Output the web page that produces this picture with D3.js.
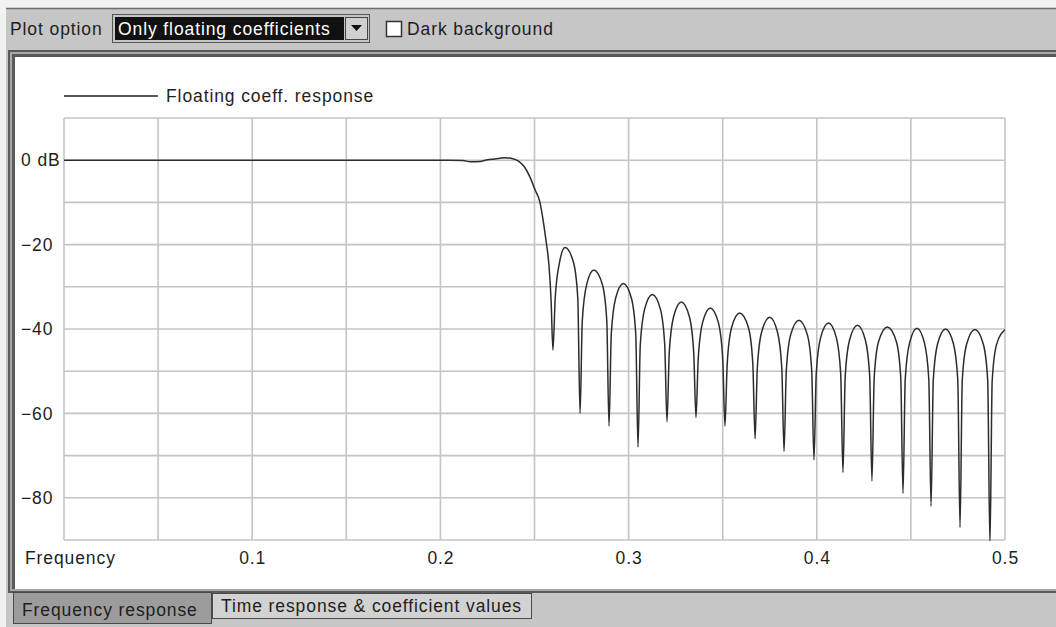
<!DOCTYPE html>
<html>
<head>
<meta charset="utf-8">
<script src="https://cdn.jsdelivr.net/npm/d3@7"></script>
<style>
  html, body { margin: 0; padding: 0; background: #f2f2f2; }
  svg { display: block; }
  text { font-family: "Liberation Sans", Arial, sans-serif; }
</style>
</head>
<body>
<svg id="chart" width="1056" height="627"></svg>
<script>
// ---------------- data ----------------
const seriesName = "Floating coeff. response";
const xTickValues = [0.1, 0.2, 0.3, 0.4, 0.5];
const yTickValues = [0, -20, -40, -60, -80];
const xGridValues = [0, 0.05, 0.1, 0.15, 0.2, 0.25, 0.3, 0.35, 0.4, 0.45, 0.5];
const yGridValues = [10, 0, -10, -20, -30, -40, -50, -60, -70, -80, -90];
const xAxisTitle = "Frequency";
const plotOption = "Only floating coefficients";
const checkboxLabel = "Dark background";
const tabLabels = ["Frequency response", "Time response & coefficient values"];

// normalized frequency
const freq = [
  0.000, 0.150, 0.205, 0.212, 0.216, 0.221, 0.225, 0.229, 0.234, 0.238,
  0.2415, 0.2445, 0.2476, 0.2503, 0.2529, 0.2545, 0.2561, 0.2577, 0.2588, 0.2598,
  0.2610, 0.2633, 0.2662, 0.2707, 0.2730, 0.2742,
  0.2754, 0.2777, 0.2815, 0.2861, 0.2884, 0.2896,
  0.2908, 0.2931, 0.2972, 0.3015, 0.3038, 0.3050,
  0.3062, 0.3085, 0.3126, 0.3169, 0.3192, 0.3204,
  0.3216, 0.3239, 0.3280, 0.3323, 0.3346, 0.3358,
  0.3370, 0.3393, 0.3434, 0.3477, 0.3500, 0.3512,
  0.3524, 0.3547, 0.3590, 0.3637, 0.3660, 0.3672,
  0.3684, 0.3707, 0.3750, 0.3791, 0.3814, 0.3826,
  0.3838, 0.3861, 0.3905, 0.3950, 0.3973, 0.3985,
  0.3997, 0.4020, 0.4062, 0.4104, 0.4127, 0.4139,
  0.4151, 0.4174, 0.4216, 0.4258, 0.4281, 0.4293,
  0.4305, 0.4328, 0.4375, 0.4423, 0.4446, 0.4458,
  0.4470, 0.4493, 0.4532, 0.4572, 0.4595, 0.4607,
  0.4619, 0.4642, 0.4684, 0.4726, 0.4749, 0.4761,
  0.4773, 0.4796, 0.4840, 0.4885, 0.4908, 0.4920,
  0.4932, 0.4955, 0.5000
];
// magnitude in dB
const magDb = [
  0.0, 0.0, 0.0, -0.1, -0.35, -0.3, 0.1, 0.3, 0.6, 0.4,
  -0.2, -1.5, -4, -7, -10, -14, -19, -25, -33, -45,
  -32.7, -24.2, -20.7, -24.2, -32.7, -60,
  -38.0, -29.5, -26.0, -29.5, -38.0, -63,
  -41.2, -32.7, -29.2, -32.7, -41.2, -68,
  -43.8, -35.3, -31.8, -35.3, -43.8, -62,
  -45.6, -37.1, -33.6, -37.1, -45.6, -61,
  -47.0, -38.5, -35.0, -38.5, -47.0, -63,
  -48.2, -39.7, -36.2, -39.7, -48.2, -66,
  -49.2, -40.7, -37.2, -40.7, -49.2, -69,
  -49.9, -41.4, -37.9, -41.4, -49.9, -71,
  -50.6, -42.1, -38.6, -42.1, -50.6, -74,
  -51.1, -42.6, -39.1, -42.6, -51.1, -76,
  -51.5, -43.0, -39.5, -43.0, -51.5, -79,
  -51.8, -43.3, -39.8, -43.3, -51.8, -82,
  -52.0, -43.5, -40.0, -43.5, -52.0, -87,
  -52.1, -43.6, -40.1, -43.6, -52.1, -91,
  -52.2, -43.7, -40.2
];

// ---------------- drawing ----------------
const svg = d3.select("#chart");
const W = 1056, H = 627;
const FONT = 17.5;
const LS = 0.9;
const TXT = "#1e1e1e";

// window chrome
svg.append("rect").attr("x", 0).attr("y", 0).attr("width", W).attr("height", H).attr("fill", "#f2f2f2");
svg.append("rect").attr("x", 6).attr("y", 8).attr("width", W - 6).attr("height", H - 8).attr("fill", "#c6c6c6");
svg.append("line").attr("x1", 6).attr("x2", W).attr("y1", 8.5).attr("y2", 8.5).attr("stroke", "#6e6e6e").attr("stroke-width", 1.5);

// toolbar
svg.append("text").attr("x", 10).attr("y", 35).attr("font-size", FONT).attr("letter-spacing", LS)
  .attr("fill", TXT).text("Plot option");
svg.append("rect").attr("x", 112.5).attr("y", 14.5).attr("width", 257).attr("height", 28)
  .attr("fill", "#c6c6c6").attr("stroke", "#555");
svg.append("rect").attr("x", 115).attr("y", 17).attr("width", 229).attr("height", 23).attr("fill", "#111");
svg.append("text").attr("x", 118).attr("y", 35).attr("font-size", FONT).attr("letter-spacing", LS)
  .attr("fill", "#fff").text(plotOption);
svg.append("rect").attr("x", 345.5).attr("y", 17.5).attr("width", 22).attr("height", 22)
  .attr("fill", "#d0d0d0").attr("stroke", "#444");
svg.append("path").attr("d", "M351,25 L362,25 L356.5,31 Z").attr("fill", "#111");
svg.append("rect").attr("x", 386.5).attr("y", 21.5).attr("width", 15).attr("height", 15)
  .attr("fill", "#fff").attr("stroke", "#333").attr("stroke-width", 1.5);
svg.append("text").attr("x", 407).attr("y", 35).attr("font-size", FONT).attr("letter-spacing", LS)
  .attr("fill", TXT).text(checkboxLabel);

// panel frame
svg.append("rect").attr("x", 8).attr("y", 50).attr("width", W - 8).attr("height", 543).attr("fill", "#5a5a5a");
svg.append("rect").attr("x", 10).attr("y", 52).attr("width", W - 10).attr("height", 539).attr("fill", "#a8a8a8");
svg.append("rect").attr("x", 12).attr("y", 54).attr("width", W - 12).attr("height", 535).attr("fill", "#5a5a5a");
svg.append("rect").attr("x", 15).attr("y", 57).attr("width", W - 15).attr("height", 532).attr("fill", "#ffffff");

// tabs
svg.append("rect").attr("x", 212.5).attr("y", 593.5).attr("width", 319).attr("height", 25)
  .attr("fill", "#d2d2d2").attr("stroke", "#4a4a4a");
svg.append("text").attr("x", 221).attr("y", 612).attr("font-size", FONT).attr("letter-spacing", LS)
  .attr("fill", TXT).text(tabLabels[1]);
svg.append("rect").attr("x", 13.5).attr("y", 592.5).attr("width", 198).attr("height", 31)
  .attr("fill", "#9c9c9c").attr("stroke", "#4a4a4a");
svg.append("text").attr("x", 22).attr("y", 616).attr("font-size", FONT).attr("letter-spacing", LS)
  .attr("fill", TXT).text(tabLabels[0]);

// scales
const x = d3.scaleLinear().domain([0, 0.5]).range([64, 1005]);
const y = d3.scaleLinear().domain([10, -90]).range([118, 540]);

// grid
const grid = svg.append("g");
grid.selectAll("line.v").data(xGridValues).join("line").attr("class", "v")
  .attr("x1", d => x(d)).attr("x2", d => x(d)).attr("y1", y(10)).attr("y2", y(-90))
  .attr("stroke", "#c4c4c4").attr("stroke-width", 1.6);
grid.selectAll("line.h").data(yGridValues).join("line").attr("class", "h")
  .attr("x1", x(0)).attr("x2", x(0.5)).attr("y1", d => y(d)).attr("y2", d => y(d))
  .attr("stroke", "#c4c4c4").attr("stroke-width", 1.6);

// y axis labels
const yAxis = d3.axisLeft(y).tickValues(yTickValues).tickSize(0)
  .tickFormat(d => d === 0 ? "0 dB" : "\u2212" + Math.abs(d));
const gy = svg.append("g").attr("transform", `translate(${x(0)},0)`).call(yAxis);
gy.select(".domain").remove();
gy.selectAll("text").attr("x", 21 - x(0)).attr("text-anchor", "start")
  .attr("font-size", FONT).attr("letter-spacing", LS).attr("fill", TXT)
  .attr("font-family", "Liberation Sans, Arial, sans-serif");

// x axis labels
const xAxis = d3.axisBottom(x).tickValues(xTickValues).tickSize(0).tickFormat(d3.format(".1f"));
const gx = svg.append("g").attr("transform", `translate(0,${y(-90)})`).call(xAxis);
gx.select(".domain").remove();
gx.selectAll("text").attr("y", 0).attr("dy", 0).attr("transform", "translate(0,24)")
  .attr("font-size", FONT).attr("letter-spacing", LS).attr("fill", TXT)
  .attr("font-family", "Liberation Sans, Arial, sans-serif");
svg.append("text").attr("x", 25).attr("y", y(-90) + 24).attr("font-size", FONT)
  .attr("letter-spacing", LS).attr("fill", TXT).text(xAxisTitle);

// legend
svg.append("line").attr("x1", 64).attr("x2", 158).attr("y1", 96).attr("y2", 96)
  .attr("stroke", "#222").attr("stroke-width", 1.3);
svg.append("text").attr("x", 166).attr("y", 102).attr("font-size", FONT).attr("letter-spacing", LS)
  .attr("fill", TXT).text(seriesName);

// clip + line
svg.append("clipPath").attr("id", "plotclip").append("rect")
  .attr("x", x(0)).attr("y", y(10)).attr("width", x(0.5) - x(0)).attr("height", y(-90) - y(10) + 1);
const pts = freq.map((f, i) => [f, magDb[i]]);
const line = d3.line().x(d => x(d[0])).y(d => y(d[1])).curve(d3.curveMonotoneX);
svg.append("path").datum(pts).attr("clip-path", "url(#plotclip)")
  .attr("d", line).attr("fill", "none").attr("stroke", "#2c2c2c").attr("stroke-width", 1.5)
  .attr("stroke-linejoin", "round");
</script>
</body>
</html>
